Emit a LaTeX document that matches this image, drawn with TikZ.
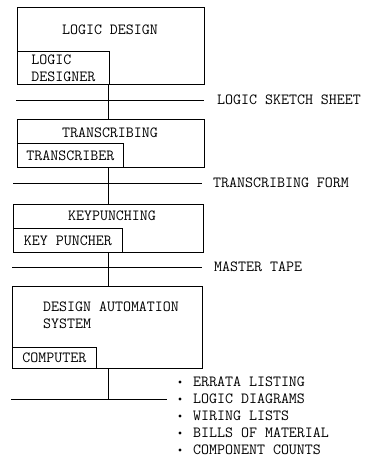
\documentclass[tikz,border=0pt]{standalone}
\usepackage{tikz}
\usetikzlibrary{positioning, calc}
\newcommand{\typefont}{\ttfamily\fontsize{15.5}{17}\selectfont}
\tikzset{
  stagebox/.style={rectangle, draw, line width=0.8pt, anchor=north west,
    inner sep=0pt},
  rolebox/.style={rectangle, draw, line width=0.8pt, anchor=south west,
    align=left, inner xsep=6pt, inner ysep=0pt, font=\typefont},
  title/.style={font=\typefont, inner sep=0pt},
  formlabel/.style={font=\typefont, anchor=west, inner sep=0pt},
  line/.style={line width=0.8pt}
}

\begin{document}
\begin{tikzpicture}[x=1pt, y=-1pt]
  \useasboundingbox (0,0) rectangle (369,459);
  \coordinate (spine) at (108,0);

  % Logic design stage
  \node[stagebox, minimum width=187pt, minimum height=77pt] (design) at (17,7) {};
  \node[title] (designT) at (110,30) {LOGIC DESIGN};
  \node[rolebox, minimum width=92pt, minimum height=33pt] (designer)
    at (design.south west) {LOGIC\\DESIGNER};

  % Logic sketch sheet
  \coordinate (sheetL) at (16,100);
  \coordinate (sheetR) at (204,100);
  \draw[line] (sheetL) -- (sheetR);
  \node[formlabel] (sheet) at (217,100) {LOGIC SKETCH SHEET};

  % Transcribing stage
  \node[stagebox, minimum width=187pt, minimum height=48pt] (transcr) at (17,119) {};
  \node[title] (transcrT) at (110,133) {TRANSCRIBING};
  \node[rolebox, minimum width=106pt, minimum height=24pt] (transcriber)
    at (transcr.south west) {TRANSCRIBER};
  \draw[line] (design.south -| spine) -- (transcr.north -| spine);

  % Transcribing form
  \coordinate (formL) at (13,183);
  \coordinate (formR) at (202,183);
  \draw[line] (formL) -- (formR);
  \node[formlabel] (form) at (213,183) {TRANSCRIBING FORM};

  % Keypunching stage
  \node[stagebox, minimum width=190pt, minimum height=48pt] (keypunch) at (13,204) {};
  \node[title] (keypunchT) at (112,216) {KEYPUNCHING};
  \node[rolebox, minimum width=109pt, minimum height=24pt] (puncher)
    at (keypunch.south west) {KEY PUNCHER};
  \draw[line] (transcr.south -| spine) -- (keypunch.north -| spine);

  % Master tape
  \coordinate (tapeL) at (12,267);
  \coordinate (tapeR) at (202,267);
  \draw[line] (tapeL) -- (tapeR);
  \node[formlabel] (tape) at (214,267) {MASTER TAPE};

  % Design automation system
  \node[stagebox, minimum width=190pt, minimum height=82pt] (dasys) at (12,286) {};
  \node[title, anchor=north west, align=left] (dasysT) at (43,302)
    {DESIGN AUTOMATION\\SYSTEM};
  \node[rolebox, minimum width=84pt, minimum height=21pt] (computer)
    at (dasys.south west) {COMPUTER};
  \draw[line] (keypunch.south -| spine) -- (dasys.north -| spine);

  % Outputs
  \coordinate (outL) at (11,399);
  \coordinate (outR) at (167,399);
  \draw[line] (dasys.south -| spine) -- (spine |- outL);
  \draw[line] (outL) -- (outR);
  \foreach \item [count=\i] in {ERRATA LISTING, LOGIC DIAGRAMS, WIRING LISTS,
      BILLS OF MATERIAL, COMPONENT COUNTS} {
    \fill (180,365+17*\i) circle (1.6pt);
    \node[formlabel] (out\i) at (193,365+17*\i) {\item};
  }
\end{tikzpicture}
\end{document}
